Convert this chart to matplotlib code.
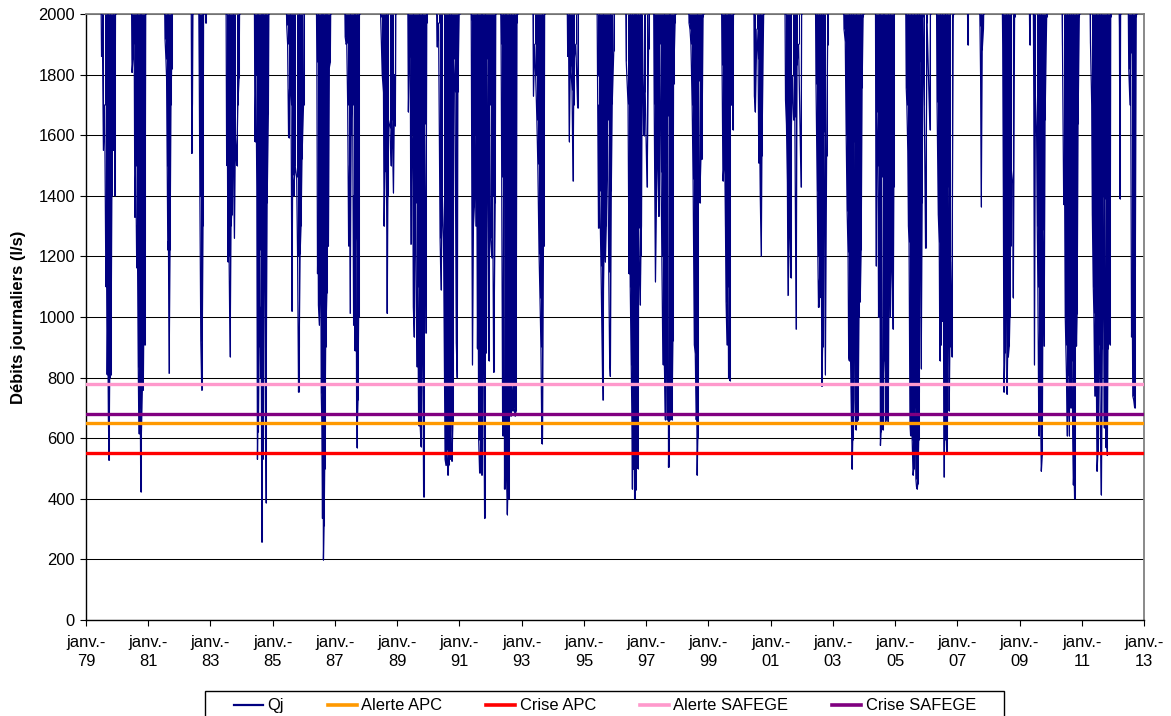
import matplotlib
matplotlib.use("Agg")
import matplotlib.pyplot as plt
from matplotlib.lines import Line2D
from matplotlib.patches import Rectangle

plt.rcParams['font.family'] = ['Liberation Sans', 'DejaVu Sans']

# ---------------- data ----------------
START_YEAR = 1979
ABOVE = 2100  # flows above the 2000 l/s scale (off-chart)

# dry-season episodes: (years since Jan 1979, daily flow l/s)
q1979 = [(0.48, ABOVE), (0.50, 1860), (0.53, 1900), (0.56, 1550), (0.60, 1700), (0.64, 1100), (0.66, 1200), (0.68, 810),
         (0.70, 1000), (0.72, 667), (0.74, 527), (0.76, 800), (0.78, 900), (0.80, 810), (0.83, 1400), (0.86, 1700),
         (0.88, 1550), (0.91, 1800), (0.93, 1400), (0.95, ABOVE)]
q1980 = [(1.46, ABOVE), (1.48, 1807), (1.51, 1850), (1.55, 1900), (1.57, 1329), (1.60, 1500), (1.63, 1162), (1.65, 1300),
         (1.68, 836), (1.70, 615), (1.72, 700), (1.74, 800), (1.76, 423), (1.78, 620), (1.81, 760), (1.84, 758),
         (1.86, 1000), (1.88, 908), (1.90, 1250), (1.92, ABOVE)]
q1981 = [(2.52, ABOVE), (2.54, 1918), (2.57, 1850), (2.59, 1788), (2.61, 1500), (2.63, 1221), (2.65, 1250), (2.67, 814),
         (2.70, 1221), (2.73, 1700), (2.75, 1820), (2.77, ABOVE)]
q1982 = [(3.38, ABOVE), (3.40, 1540), (3.42, 1703), (3.44, ABOVE), (3.62, ABOVE), (3.64, 1800), (3.66, 1400),
         (3.69, 921), (3.72, 758), (3.74, 1000), (3.76, 1300), (3.78, ABOVE), (3.84, ABOVE), (3.85, 1970), (3.86, ABOVE)]
q1983 = [(4.50, ABOVE), (4.52, 1500), (4.54, 1700), (4.56, 1182), (4.58, 1400), (4.60, 1200), (4.63, 869), (4.66, 1300),
         (4.68, 1338), (4.71, 1600), (4.74, 1500), (4.77, 1260), (4.80, 1600), (4.84, 1500), (4.88, 1700), (4.92, 1790),
         (4.94, ABOVE)]
q1984 = [(5.41, ABOVE), (5.43, 1579), (5.46, 1800), (5.49, 1429), (5.51, 530), (5.53, 700), (5.54, 621), (5.56, 900),
         (5.59, 1221), (5.61, 800), (5.63, 1032), (5.65, 257), (5.67, 700), (5.68, 530), (5.70, 900), (5.72, 1729),
         (5.74, 1200), (5.76, 770), (5.78, 387), (5.80, 1000), (5.82, 1377), (5.86, 1670), (5.88, ABOVE)]
q1985 = [(6.43, ABOVE), (6.45, 1964), (6.48, 1900), (6.51, 1592), (6.54, 1750), (6.56, 1768), (6.59, 1700), (6.62, 1019),
         (6.64, 1468), (6.67, 1400), (6.72, 1500), (6.77, 1462), (6.80, 1200), (6.83, 752), (6.85, 902), (6.88, 1208),
         (6.91, 1300), (6.94, 1520), (6.99, 1700), (7.01, ABOVE)]
q1986 = [(7.40, ABOVE), (7.42, 1840), (7.44, 1143), (7.46, 1300), (7.47, 1038), (7.50, 973), (7.52, 1100), (7.54, 1462),
         (7.56, 750), (7.58, 648), (7.60, 335), (7.62, 800), (7.63, 198), (7.65, 309), (7.67, 500), (7.68, 635),
         (7.70, 900), (7.72, 1000), (7.74, 1078), (7.76, 1400), (7.79, 1234), (7.82, 1824), (7.85, 1840), (7.87, ABOVE)]
q1987 = [(8.31, ABOVE), (8.33, 1924), (8.36, 1900), (8.38, 1905), (8.41, 1700), (8.44, 1234), (8.47, 1500), (8.49, 1012),
         (8.52, 1600), (8.55, 1800), (8.57, 1700), (8.60, 973), (8.62, 1400), (8.64, 889), (8.66, 1250), (8.68, 1300),
         (8.70, 569), (8.72, 648), (8.74, 726), (8.76, 1000), (8.78, 1950), (8.80, ABOVE)]
q1988 = [(9.45, ABOVE), (9.47, 1990), (9.52, 1800), (9.56, 1742), (9.58, 1300), (9.61, 1514), (9.63, 1480), (9.65, 1600),
         (9.68, 1012), (9.70, 1400), (9.72, 1650), (9.77, 1625), (9.80, 1500), (9.84, 1650), (9.88, 1410), (9.92, 1800),
         (9.94, 1631), (9.96, ABOVE)]
q1989 = [(10.34, ABOVE), (10.36, 1677), (10.39, 1850), (10.42, 1900), (10.44, 1240), (10.47, 1600), (10.50, 1534),
         (10.52, 1032), (10.55, 934), (10.58, 1377), (10.60, 1377), (10.63, 836), (10.66, 1100), (10.69, 641),
         (10.71, 1130), (10.74, 641), (10.77, 572), (10.79, 900), (10.81, 1200), (10.83, 800), (10.85, 406),
         (10.88, 1638), (10.92, 947), (10.95, 1970), (10.97, ABOVE)]
q1990 = [(11.26, ABOVE), (11.28, 1892), (11.33, 1970), (11.38, 1260), (11.41, 1090), (11.45, 1400), (11.49, 1260),
         (11.52, 823), (11.54, 530), (11.57, 510), (11.60, 560), (11.63, 478), (11.65, 510), (11.67, 830),
         (11.70, 530), (11.72, 700), (11.74, 1201), (11.76, 524), (11.79, 650), (11.82, 1850), (11.86, 1742),
         (11.90, 915), (11.93, 800), (11.95, 1742), (11.99, 2000), (12.01, ABOVE)]
q1991 = [(12.36, ABOVE), (12.38, 1980), (12.42, 843), (12.45, 1300), (12.48, 1364), (12.51, 1600), (12.53, 1300),
         (12.56, 1500), (12.58, 896), (12.60, 1200), (12.62, 595), (12.65, 485), (12.68, 550), (12.70, 1638),
         (12.72, 478), (12.74, 800), (12.76, 1260), (12.78, 830), (12.81, 335), (12.83, 1200), (12.86, 882),
         (12.89, 1850), (12.92, 1300), (12.94, 856), (12.97, 1700), (13.00, 1260), (13.04, 1195), (13.07, 1400),
         (13.10, 817), (13.15, 1377), (13.17, ABOVE)]
q1992 = [(13.32, ABOVE), (13.34, 1900), (13.36, 1462), (13.39, 608), (13.41, 1000), (13.43, 1683), (13.45, 432),
         (13.47, 700), (13.49, 797), (13.51, 500), (13.54, 348), (13.56, 450), (13.58, 400), (13.60, 1084),
         (13.63, 1468), (13.65, 673), (13.67, 900), (13.69, 780), (13.71, 690), (13.74, 770), (13.76, 700),
         (13.79, 673), (13.82, 690), (13.85, 1970), (13.87, ABOVE)]
q1993 = [(14.36, ABOVE), (14.38, 1729), (14.42, 1900), (14.45, 1800), (14.49, 1650), (14.52, 1505), (14.56, 1208),
         (14.59, 1064), (14.62, 900), (14.65, 582), (14.67, 600), (14.70, 1234), (14.72, 1234), (14.74, ABOVE)]
q1994 = [(15.46, ABOVE), (15.48, 1860), (15.51, 1900), (15.53, 1579), (15.56, 1800), (15.58, 1830), (15.62, 1750),
         (15.65, 1449), (15.67, 1700), (15.69, 1850), (15.74, 1900), (15.80, 1690), (15.82, ABOVE)]
q1995 = [(16.42, ABOVE), (16.44, 1794), (16.47, 1293), (16.49, 1700), (16.51, 1416), (16.55, 1169), (16.58, 947),
         (16.61, 726), (16.63, 1100), (16.66, 1300), (16.69, 1182), (16.72, 1300), (16.74, 1500), (16.76, 1650),
         (16.80, 1149), (16.83, 843), (16.85, 804), (16.88, 1416), (16.91, 1703), (16.96, 1878), (16.98, ABOVE)]
q1996 = [(17.34, ABOVE), (17.36, 1846), (17.42, 1703), (17.45, 1143), (17.47, 1400), (17.49, 1100), (17.52, 843),
         (17.54, 700), (17.56, 432), (17.58, 880), (17.60, 498), (17.62, 560), (17.63, 400), (17.65, 870),
         (17.67, 430), (17.69, 600), (17.71, 530), (17.73, 500), (17.75, 800), (17.76, 1293), (17.79, 1143),
         (17.81, 1040), (17.83, 1200), (17.85, 1300), (17.88, 1980), (17.92, 1599), (17.95, 1800), (17.97, 1742),
         (18.03, 1429), (18.08, 1885), (18.10, ABOVE)]
q1997 = [(18.24, ABOVE), (18.26, 1703), (18.30, 1117), (18.33, 1364), (18.35, 1580), (18.38, 1500), (18.41, 1332),
         (18.44, 1900), (18.48, 1480), (18.51, 1200), (18.54, 843), (18.57, 1000), (18.59, 830), (18.62, 661),
         (18.65, 1508), (18.67, 661), (18.70, 1664), (18.72, 504), (18.74, 700), (18.76, 661), (18.78, 1429),
         (18.80, 740), (18.83, 661), (18.86, 920), (18.88, 1768), (18.93, 1970), (18.95, ABOVE)]
q1998 = [(19.36, ABOVE), (19.38, 1970), (19.41, 1950), (19.44, 1900), (19.48, 1700), (19.51, 1455), (19.55, 908),
         (19.58, 880), (19.61, 661), (19.63, 700), (19.64, 478), (19.66, 600), (19.69, 1780), (19.72, 1377),
         (19.76, 1520), (19.79, 1520), (19.83, 1990), (19.85, ABOVE)]
q1999 = [(20.42, ABOVE), (20.44, 1833), (20.47, 1449), (20.50, 1500), (20.52, 1600), (20.55, 1300), (20.57, 1051),
         (20.60, 908), (20.62, 1100), (20.63, 1221), (20.65, 797), (20.67, 900), (20.69, 790), (20.71, 1846),
         (20.74, 1700), (20.76, 1850), (20.79, 1618), (20.81, ABOVE)]
q2000 = [(21.46, ABOVE), (21.48, 1729), (21.51, 1677), (21.56, 1950), (21.60, 1850), (21.62, 1508), (21.65, 1600),
         (21.67, 1390), (21.70, 1201), (21.72, 1533), (21.77, 1970), (21.79, ABOVE)]
q2001 = [(22.46, ABOVE), (22.48, 1716), (22.51, 1638), (22.54, 1450), (22.56, 1071), (22.59, 1300), (22.61, 1403),
         (22.64, 1130), (22.67, 1638), (22.71, 1794), (22.74, 1650), (22.78, 1660), (22.82, 960), (22.85, 1833),
         (22.90, 1900), (22.98, 1429), (23.00, ABOVE)]
q2002 = [(23.44, ABOVE), (23.46, 1768), (23.48, 1600), (23.50, 1416), (23.52, 1200), (23.54, 1032), (23.56, 1100),
         (23.58, 1136), (23.61, 1064), (23.63, 1200), (23.65, 771), (23.67, 900), (23.69, 1273), (23.72, 1612),
         (23.76, 810), (23.80, 1533), (23.83, 1898), (23.85, ABOVE)]
q2003 = [(24.34, ABOVE), (24.36, 1950), (24.40, 1910), (24.43, 1600), (24.46, 1351), (24.49, 1214), (24.51, 869),
         (24.53, 856), (24.55, 1000), (24.57, 869), (24.60, 634), (24.62, 498), (24.64, 595), (24.66, 674),
         (24.69, 1579), (24.71, 726), (24.73, 628), (24.76, 755), (24.78, 654), (24.81, 661), (24.84, 1000),
         (24.86, 1332), (24.88, 1051), (24.91, 1221), (24.94, 1755), (24.97, 1990), (24.99, ABOVE)]
q2004 = [(25.37, ABOVE), (25.39, 1169), (25.42, 1677), (25.45, 1500), (25.47, 999), (25.49, 1300), (25.51, 1664),
         (25.53, 576), (25.55, 622), (25.57, 1462), (25.60, 628), (25.62, 800), (25.64, 856), (25.66, 1579),
         (25.69, 648), (25.72, 661), (25.74, 908), (25.76, 700), (25.78, 654), (25.81, 1234), (25.83, 1100),
         (25.85, 999), (25.88, 1200), (25.91, 1169), (25.94, 960), (25.96, 1429), (25.98, ABOVE)]
q2005 = [(26.34, ABOVE), (26.36, 1755), (26.38, 1700), (26.41, 1546), (26.43, 1300), (26.45, 1247), (26.48, 648),
         (26.50, 608), (26.52, 1540), (26.55, 595), (26.58, 478), (26.60, 500), (26.62, 810), (26.65, 700),
         (26.67, 465), (26.69, 439), (26.71, 432), (26.73, 450), (26.76, 595), (26.78, 752), (26.81, 1840),
         (26.84, 830), (26.87, 1377), (26.90, 1990), (26.94, 1700), (26.98, 1227), (27.03, 1970), (27.12, 1618),
         (27.14, ABOVE)]
q2006 = [(27.33, ABOVE), (27.35, 1709), (27.39, 1338), (27.42, 1247), (27.44, 856), (27.46, 1000), (27.48, 908),
         (27.50, 1100), (27.52, 986), (27.55, 1312), (27.57, 472), (27.59, 595), (27.61, 700), (27.62, 986),
         (27.64, 650), (27.66, 556), (27.68, 600), (27.71, 1429), (27.74, 690), (27.76, 900), (27.78, 1182),
         (27.82, 869), (27.87, 1990), (27.89, ABOVE)]
q2007 = [(28.32, ABOVE), (28.34, 1898), (28.36, ABOVE), (28.71, ABOVE), (28.73, 1960), (28.75, 1788), (28.77, 1364),
         (28.80, 1880), (28.84, 1950), (28.86, ABOVE)]
q2008 = [(29.44, ABOVE), (29.46, 1900), (29.48, 1423), (29.50, 752), (29.53, 880), (29.56, 1247), (29.58, 1100),
         (29.60, 745), (29.62, 900), (29.64, 869), (29.67, 904), (29.69, 1000), (29.71, 1234), (29.74, 1481),
         (29.78, 1442), (29.80, 1064), (29.84, 1990), (29.86, ABOVE)]
q2009 = [(30.31, ABOVE), (30.33, 1898), (30.35, ABOVE), (30.44, ABOVE), (30.46, 1700), (30.48, 843), (30.51, 1729),
         (30.55, 1599), (30.57, 1300), (30.59, 1100), (30.62, 608), (30.64, 900), (30.66, 1090), (30.68, 667),
         (30.70, 491), (30.73, 543), (30.76, 1286), (30.79, 904), (30.82, 1651), (30.87, 1990), (30.89, ABOVE)]
q2010 = [(31.36, ABOVE), (31.38, 1898), (31.42, 1371), (31.45, 1416), (31.47, 1000), (31.49, 908), (31.51, 800),
         (31.53, 608), (31.56, 804), (31.58, 700), (31.60, 608), (31.62, 934), (31.64, 700), (31.66, 934),
         (31.69, 856), (31.71, 600), (31.73, 446), (31.75, 500), (31.77, 400), (31.80, 1221), (31.83, 904),
         (31.85, 1010), (31.88, 1638), (31.92, 1990), (31.94, ABOVE)]
q2011 = [(32.26, ABOVE), (32.28, 1905), (32.32, 1700), (32.34, 1338), (32.37, 1100), (32.39, 1012), (32.42, 739),
         (32.45, 1208), (32.47, 800), (32.49, 491), (32.52, 556), (32.54, 1846), (32.56, 908), (32.58, 782),
         (32.61, 543), (32.63, 413), (32.66, 895), (32.69, 1397), (32.72, 635), (32.75, 1390), (32.78, 569),
         (32.80, 915), (32.82, 543), (32.84, 895), (32.87, 921), (32.91, 908), (32.93, 1990), (32.95, ABOVE)]
q2012 = [(33.19, ABOVE), (33.21, 1960), (33.23, 1390), (33.25, ABOVE), (33.49, ABOVE), (33.51, 1820), (33.55, 1700),
         (33.57, 1872), (33.60, 934), (33.62, 1100), (33.64, 739), (33.67, 726), (33.70, 700), (33.72, 1169),
         (33.75, 1990), (33.77, ABOVE)]

seasons = [q1979, q1980, q1981, q1982, q1983, q1984, q1985, q1986, q1987, q1988, q1989, q1990,
           q1991, q1992, q1993, q1994, q1995, q1996, q1997, q1998, q1999, q2000, q2001, q2002,
           q2003, q2004, q2005, q2006, q2007, q2008, q2009, q2010, q2011, q2012]

# thresholds (l/s)
alerte_apc = 650
crise_apc = 550
alerte_safege = 780
crise_safege = 680

tick_years = list(range(1979, 2014, 2))
tick_labels = ["janv.-\n%02d" % (y % 100) for y in tick_years]
y_ticks = list(range(0, 2001, 200))

# ---------------- figure ----------------
FS = 11.9
QJ_COLOR = '#000080'
W, H = 1171, 716
fig = plt.figure(figsize=(W / 100, H / 100), dpi=100)
ax = fig.add_axes([86 / W, 1 - 620 / H, (1144 - 86) / W, (620 - 14) / H])

years, flows = [], []
for s in seasons:
    for t, v in s:
        years.append(START_YEAR + t)
        flows.append(v)

ax.plot(years, flows, color=QJ_COLOR, lw=0.9, zorder=3)
ax.vlines(years, flows, 2000, color=QJ_COLOR, lw=0.75, zorder=3)

ax.axhline(alerte_apc, color='#FF9900', lw=2.4, zorder=4)
ax.axhline(crise_apc, color='#FF0000', lw=2.4, zorder=4)
ax.axhline(alerte_safege, color='#FF99CC', lw=2.4, zorder=4)
ax.axhline(crise_safege, color='#800080', lw=2.4, zorder=4)

ax.set_xlim(1979, 2013)
ax.set_ylim(0, 2000)
ax.set_yticks(y_ticks)
ax.set_xticks(tick_years)
ax.set_xticklabels(tick_labels, linespacing=1.35)
ax.yaxis.grid(True, color='black', lw=0.75, zorder=1)
ax.set_axisbelow(True)

for side in ['top', 'right']:
    ax.spines[side].set_color('#808080')
    ax.spines[side].set_linewidth(1.3)
for side in ['left', 'bottom']:
    ax.spines[side].set_color('black')
    ax.spines[side].set_linewidth(1.0)

ax.tick_params(axis='both', labelsize=FS, direction='out', length=4, width=0.8, color='black')
ax.tick_params(axis='x', pad=7)
ax.tick_params(axis='y', pad=4)
ax.set_ylabel('Débits journaliers (l/s)', fontsize=FS, fontweight='bold', labelpad=9)

handles = [Line2D([], [], color=QJ_COLOR, lw=1.6),
           Line2D([], [], color='#FF9900', lw=2.6),
           Line2D([], [], color='#FF0000', lw=2.6),
           Line2D([], [], color='#FF99CC', lw=2.6),
           Line2D([], [], color='#800080', lw=2.6)]
labels = ['Qj', 'Alerte APC', 'Crise APC', 'Alerte SAFEGE', 'Crise SAFEGE']
fig.legend(handles, labels, loc='upper center', bbox_to_anchor=(605 / W, 1 - 691 / H),
           ncol=5, fontsize=FS, frameon=False, handlelength=1.76,
           handletextpad=0.25, columnspacing=2.67, borderpad=0.45, borderaxespad=0)
# legend frame (box runs past the bottom edge of the image)
fig.patches.append(Rectangle((205 / W, -0.02), (1004 - 205) / W, 0.02 + (H - 691) / H,
                             transform=fig.transFigure, fill=False, edgecolor='black', lw=1.0))

fig.savefig('out.png', dpi=100)
